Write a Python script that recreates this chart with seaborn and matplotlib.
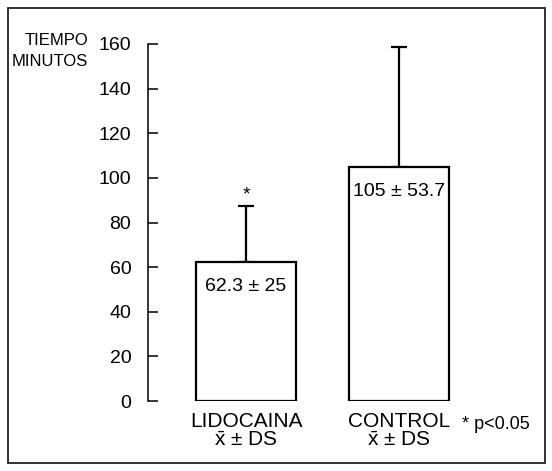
import numpy as np
import pandas as pd
import matplotlib
matplotlib.use("Agg")
import matplotlib.pyplot as plt
import seaborn as sns

# data
groups = ["LIDOCAINA", "CONTROL"]
means = [62.3, 105.0]
sds = [25.0, 53.7]
bar_texts = ["62.3 ± 25", "105 ± 53.7"]
yticks = [0, 20, 40, 60, 80, 100, 120, 140, 160]

sns.set_style("white")
plt.rcParams['font.family'] = ['Liberation Sans', 'DejaVu Sans']
plt.rcParams['text.color'] = 'black'
plt.rcParams['mathtext.fontset'] = 'custom'
plt.rcParams['mathtext.rm'] = 'Liberation Sans'
plt.rcParams['mathtext.it'] = 'Liberation Sans'

df = pd.DataFrame({'grupo': groups, 'tiempo': means})

fig = plt.figure(figsize=(5.52, 4.71), dpi=100)
ax = fig.add_axes([0.268, 0.1486, 0.719, 0.758])

# error bars (upper only) drawn behind the bars
ax.errorbar([0, 1], means, yerr=[[0, 0], sds], fmt='none', ecolor='black',
            elinewidth=1.6, capsize=6, capthick=1.6, zorder=1)
sns.barplot(data=df, x='grupo', y='tiempo', width=0.65, color='white',
            edgecolor='black', linewidth=1.6, errorbar=None, ax=ax, zorder=2)

for i, t in enumerate(bar_texts):
    ax.text(i, means[i] - 11, t, ha='center', va='center', fontsize=14, color='black')
ax.text(0, means[0] + sds[0] + 5, '*', ha='center', va='center', fontsize=14, color='black')

ax.set_ylim(0, 160)
ax.set_xlim(-0.64, 1.95)
ax.set_yticks(yticks)
ax.set_yticklabels([str(v) for v in yticks], fontsize=14)
ax.tick_params(axis='y', left=True, direction='in', length=7, width=1.1, pad=12,
               colors='black')
ax.set_xticks([0, 1])
ax.set_xticklabels(["LIDOCAINA\n$\\bar{\\mathrm{x}}$ ± DS", "CONTROL\n$\\bar{\\mathrm{x}}$ ± DS"],
                   fontsize=15, linespacing=1.0)
ax.tick_params(axis='x', bottom=False, length=0, pad=8, colors='black')
ax.set_xlabel('')
ax.set_ylabel('')
for s in ['top', 'right', 'bottom']:
    ax.spines[s].set_visible(False)
ax.spines['left'].set_linewidth(1.1)
ax.spines['left'].set_color('black')

ax.text(1.41, -10.5, '* p<0.05', ha='left', va='center', fontsize=13, color='black',
        clip_on=False)
fig.text(0.16, 0.891, 'TIEMPO\nMINUTOS', ha='right', va='center', fontsize=12,
         linespacing=1.5, color='black')

# frame around the whole figure
fig.patches.append(plt.Rectangle((0.015, 0.017), 0.972, 0.966, transform=fig.transFigure,
                                 fill=False, edgecolor='#222222', linewidth=1.3))

fig.savefig('out.png', dpi=100)
